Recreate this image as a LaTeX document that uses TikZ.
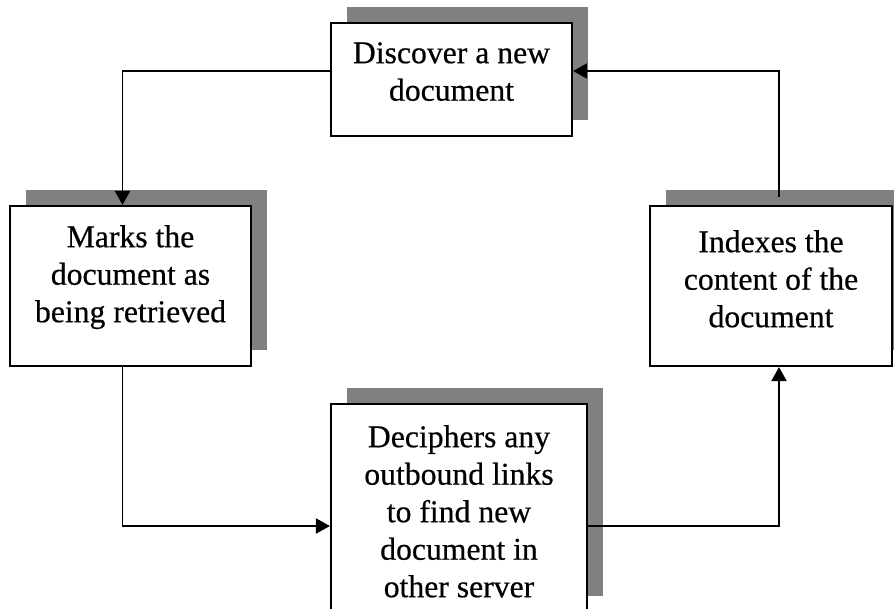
\documentclass[tikz,border=0pt]{standalone}
\usepackage{fontspec}
\setmainfont{Liberation Serif}
\newfontfamily\boxfont{Liberation Serif}[FakeBold=0.5]
\usetikzlibrary{arrows.meta,shadows}

\definecolor{shadowgray}{RGB}{128,128,128}

\begin{document}
\begin{tikzpicture}[x=1pt,y=-1pt,
  stepbox/.style={rectangle, draw=black, line width=2.1pt, fill=white,
    inner sep=0pt,
    general shadow={fill=shadowgray, shadow xshift=15.5pt, shadow yshift=16pt}},
  steptext/.style={anchor=north, inner sep=0pt, align=center,
    font=\boxfont\fontsize{31.7}{37.5}\selectfont},
  link/.style={line width=1.9pt, draw=black,
    -{Triangle[length=14pt,width=15pt]}}]

\useasboundingbox (0,0) rectangle (894,609);
\clip (0,0) rectangle (894,609);

% process boxes
\node[stepbox, minimum width=241pt, minimum height=113pt] (disc) at (451.5,79.5) {};
\node[stepbox, minimum width=241pt, minimum height=160pt] (mark) at (130.5,286) {};
\node[stepbox, minimum width=242pt, minimum height=160pt] (idx)  at (771,286) {};
\node[stepbox, minimum width=256pt, minimum height=208pt] (deci) at (459,508) {};

% box captions
\node[steptext] (disc-t) at (451.5,42) {Discover a new\\document};
\node[steptext] (mark-t) at (130.5,225) {Marks the\\document as\\being retrieved};
\node[steptext] (idx-t)  at (771,230) {Indexes the\\content of the\\document};
\node[steptext] (deci-t) at (459,425) {Deciphers any\\outbound links\\to find new\\document in\\other server};

% corners of the cycle
\coordinate (ctl) at (122.5,71);
\coordinate (cbl) at (122.5,526);
\coordinate (cbr) at (779,526);
\coordinate (ctr) at (779,71);

% connectors
\draw[link] (disc.west |- ctl) -- (ctl) -- (ctl |- mark.north);
\draw[link] (ctl |- mark.south) -- (cbl) -- (cbl -| deci.west);
\draw[link] (deci.east |- cbr) -- (cbr) -- (cbr |- idx.south);
\draw[link, shorten <=8pt] (ctr |- idx.north) -- (ctr) -- (ctr -| disc.east);

\end{tikzpicture}
\end{document}
